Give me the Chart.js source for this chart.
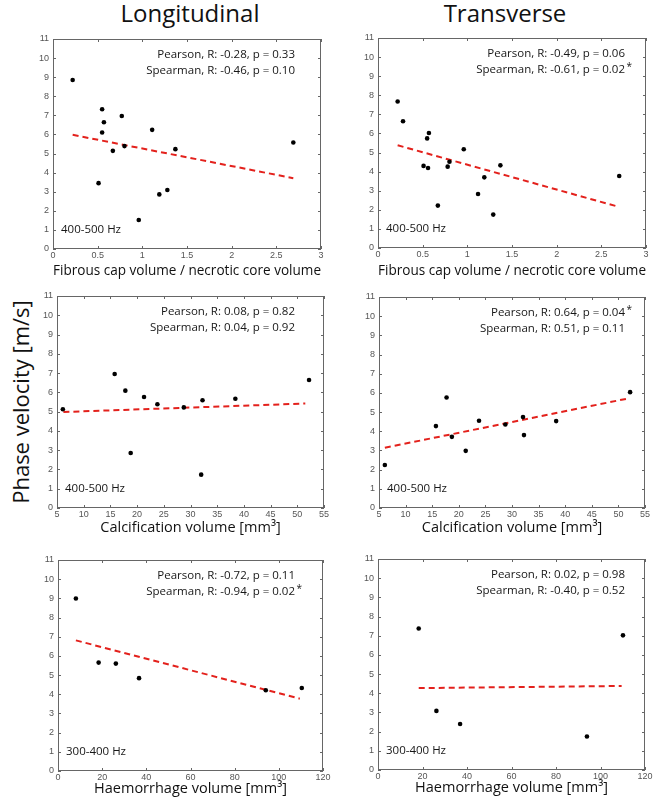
<!DOCTYPE html>
<html>
<head>
<meta charset="utf-8">
<script src="https://cdn.jsdelivr.net/npm/chart.js@4.4.0/dist/chart.umd.min.js"></script>
<style>
    body { margin: 0; width: 659px; height: 802px; background: #fff; position: relative; overflow: hidden; font-family: 'Open Sans', sans-serif; color: #111; }
    .col-title { position: absolute; top: 0; width: 300px; text-align: center; font-size: 24px; line-height: 26px; }
    .y-title { position: absolute; width: 300px; text-align: center; font-size: 22px; line-height: 26px; transform: rotate(-90deg); }
    canvas { position: absolute; }
</style>
</head>
<body>
<div class="col-title" style="left:40px">Longitudinal</div>
<div class="col-title" style="left:355px">Transverse</div>
<div class="y-title" style="left:-130px; top:389px">Phase velocity [m/s]</div>

<canvas id="c1"></canvas>
<canvas id="c2"></canvas>
<canvas id="c3"></canvas>
<canvas id="c4"></canvas>
<canvas id="c5"></canvas>
<canvas id="c6"></canvas>

<script>
// ========== DADOS ==========
// fibrous cap / necrotic core (400-500 Hz)
const capRatioL = [0.22, 0.55, 0.57, 0.55, 0.77, 0.67, 0.80, 1.11, 1.37, 0.51, 1.19, 1.28, 0.96, 2.69];
const capVelL   = [8.85, 7.32, 6.64, 6.10, 6.97, 5.14, 5.39, 6.24, 5.23, 3.45, 2.86, 3.09, 1.52, 5.58];
const capRatioT = [0.22, 0.28, 0.57, 0.55, 0.96, 0.51, 0.56, 0.78, 0.80, 1.37, 1.19, 1.12, 0.67, 1.29, 2.70];
const capVelT   = [7.67, 6.64, 6.02, 5.74, 5.17, 4.30, 4.19, 4.26, 4.52, 4.33, 3.70, 2.83, 2.22, 1.75, 3.77];

// calcification volume (400-500 Hz)
const calcVolL = [6.1, 15.8, 17.8, 18.8, 21.3, 23.8, 28.75, 32.25, 32.0, 38.4, 52.2];
const calcVelL = [5.12, 6.95, 6.09, 2.85, 5.76, 5.38, 5.22, 5.59, 1.73, 5.67, 6.64];
const calcVolT = [6.1, 15.7, 17.7, 18.7, 21.3, 23.8, 28.75, 32.07, 32.25, 38.3, 52.2];
const calcVelT = [2.24, 4.27, 5.76, 3.71, 2.98, 4.55, 4.35, 4.74, 3.80, 4.53, 6.04];

// haemorrhage volume (300-400 Hz)
const haemVolL = [8.1, 18.4, 26.2, 36.7, 94.1, 110.4];
const haemVelL = [8.99, 5.65, 5.60, 4.84, 4.21, 4.33];
const haemVolT = [18.3, 26.25, 36.9, 93.9, 110.1];
const haemVelT = [7.38, 3.08, 2.40, 1.75, 7.02];

// retas de ajuste (inicio, fim)
const fitCapLX = [0.22, 2.69],  fitCapLY = [5.98, 3.71];
const fitCapTX = [0.22, 2.70],  fitCapTY = [5.38, 2.15];
const fitCalcLX = [6.2, 51.5],  fitCalcLY = [4.98, 5.42];
const fitCalcTX = [6.1, 52.0],  fitCalcTY = [3.14, 5.72];
const fitHaemLX = [8.1, 109.5], fitHaemLY = [6.81, 3.77];
const fitHaemTX = [18.3, 109.5], fitHaemTY = [4.27, 4.38];

// ticks
const yTicks = { min: 0, max: 11, step: 1 };
const capTicks = { min: 0, max: 3, step: 0.5 };
const calcTicks = { min: 5, max: 55, step: 5 };
const haemTicks = { min: 0, max: 120, step: 20 };

// textos
const statsCapL  = ['Pearson, R: -0.28, p = 0.33', 'Spearman, R: -0.46, p = 0.10'];
const statsCapT  = ['Pearson, R: -0.49, p = 0.06', 'Spearman, R: -0.61, p = 0.02'];
const statsCalcL = ['Pearson, R: 0.08, p = 0.82', 'Spearman, R: 0.04, p = 0.92'];
const statsCalcT = ['Pearson, R: 0.64, p = 0.04', 'Spearman, R: 0.51, p = 0.11'];
const statsHaemL = ['Pearson, R: -0.72, p = 0.11', 'Spearman, R: -0.94, p = 0.02'];
const statsHaemT = ['Pearson, R: 0.02, p = 0.98', 'Spearman, R: -0.40, p = 0.52'];

// ========== PLUGIN: moldura, ticks internos, textos ==========
const notesPlugin = {
    id: 'notes',
    beforeDatasetsDraw(chart) {
        const { ctx, chartArea: a, scales } = chart;
        ctx.save();
        ctx.strokeStyle = '#666';
        ctx.lineWidth = 1;
        ctx.strokeRect(Math.round(a.left) + 0.5, Math.round(a.top) + 0.5,
                       Math.round(a.width) - 1, Math.round(a.height) - 1);
        const len = 3;
        ctx.beginPath();
        scales.x.ticks.forEach((t, i) => {
            const px = Math.round(scales.x.getPixelForTick(i)) + 0.5;
            ctx.moveTo(px, a.bottom); ctx.lineTo(px, a.bottom - len);
            ctx.moveTo(px, a.top); ctx.lineTo(px, a.top + len);
        });
        scales.y.ticks.forEach((t, i) => {
            const py = Math.round(scales.y.getPixelForTick(i)) + 0.5;
            ctx.moveTo(a.left, py); ctx.lineTo(a.left + len, py);
            ctx.moveTo(a.right, py); ctx.lineTo(a.right - len, py);
        });
        ctx.stroke();
        ctx.restore();
    },
    afterDatasetsDraw(chart, args, opts) {
        const { ctx, chartArea: a } = chart;
        ctx.save();
        ctx.fillStyle = '#161616';
        ctx.textBaseline = 'middle';
        const xr = a.right - opts.right;
        opts.lines.forEach((txt, i) => {
            const y = a.top + 16 + i * 16;
            ctx.font = '11.5px "Open Sans"';
            ctx.textAlign = 'right';
            ctx.fillText(txt, xr, y);
            if (opts.star[i]) {
                ctx.font = '10px "Open Sans"';
                ctx.textAlign = 'left';
                ctx.fillText('*', xr + 1.5, y - 3);
            }
        });
        ctx.font = '11.5px "Open Sans"';
        ctx.textAlign = 'left';
        ctx.fillText(opts.band, a.left + 8, a.bottom - 19);
        ctx.restore();
    }
};

function pontos(xs, ys) {
    return xs.map((x, i) => ({ x: x, y: ys[i] }));
}

function formatarTick(v) {
    return String(Number(v.toFixed(2)));
}

// ========== CRIAR GRAFICO ==========
function criarPainel(id, p) {
    const canvas = document.getElementById(id);
    const left = p.plot[0] - 45, top = p.plot[1] - 12;
    const width = p.plot[2] - left + 12, height = p.plot[3] - top + 36;
    canvas.style.left = left + 'px';
    canvas.style.top = top + 'px';
    canvas.width = width;
    canvas.height = height;
    const xH = p.gap + 8.7;

    new Chart(canvas, {
        type: 'scatter',
        data: {
            datasets: [
                {
                    data: pontos(p.xs, p.ys),
                    backgroundColor: '#000',
                    borderWidth: 0,
                    pointRadius: 2.3
                },
                {
                    data: pontos(p.fitX, p.fitY),
                    showLine: true,
                    borderColor: '#e3211c',
                    borderWidth: 2,
                    borderDash: [6, 4],
                    pointRadius: 0
                }
            ]
        },
        options: {
            responsive: false,
            animation: false,
            events: [],
            layout: { padding: { left: 15, right: 12, top: 12, bottom: 36 - xH } },
            plugins: {
                legend: { display: false },
                tooltip: { enabled: false },
                notes: { lines: p.stats, star: p.star, right: p.right, band: p.band }
            },
            scales: {
                x: {
                    type: 'linear',
                    min: p.xt.min, max: p.xt.max,
                    ticks: {
                        stepSize: p.xt.step, autoSkip: false, maxRotation: 0,
                        color: '#555', padding: 1.5,
                        font: { size: 9, family: 'Liberation Sans' },
                        callback: formatarTick
                    },
                    grid: { display: false, drawTicks: false },
                    border: { display: false },
                    title: {
                        display: true, text: p.xLabel, color: '#111', padding: 0,
                        font: { size: 14.5, family: 'Open Sans', lineHeight: 1.2 }
                    },
                    afterFit: s => { s.height = xH; }
                },
                y: {
                    type: 'linear',
                    min: yTicks.min, max: yTicks.max,
                    ticks: {
                        stepSize: yTicks.step, autoSkip: false,
                        color: '#555', padding: 4,
                        font: { size: 9, family: 'Liberation Sans' },
                        callback: formatarTick
                    },
                    grid: { display: false, drawTicks: false },
                    border: { display: false },
                    afterFit: s => { s.width = 30; }
                }
            }
        },
        plugins: [notesPlugin]
    });
}

const capLabel = 'Fibrous cap volume / necrotic core volume';
const calcLabel = 'Calcification volume [mm³]';
const haemLabel = 'Haemorrhage volume [mm³]';

criarPainel('c1', { plot: [53, 39, 321, 249], xs: capRatioL, ys: capVelL, fitX: fitCapLX, fitY: fitCapLY,
    xt: capTicks, xLabel: capLabel, gap: 22, stats: statsCapL, star: [false, false], right: 26, band: '400-500 Hz' });
criarPainel('c2', { plot: [378, 38, 646, 248], xs: capRatioT, ys: capVelT, fitX: fitCapTX, fitY: fitCapTY,
    xt: capTicks, xLabel: capLabel, gap: 23, stats: statsCapT, star: [false, true], right: 21, band: '400-500 Hz' });
criarPainel('c3', { plot: [57, 296, 324, 508], xs: calcVolL, ys: calcVelL, fitX: fitCalcLX, fitY: fitCalcLY,
    xt: calcTicks, xLabel: calcLabel, gap: 20, stats: statsCalcL, star: [false, false], right: 29, band: '400-500 Hz' });
criarPainel('c4', { plot: [379, 297, 645, 508], xs: calcVolT, ys: calcVelT, fitX: fitCalcTX, fitY: fitCalcTY,
    xt: calcTicks, xLabel: calcLabel, gap: 20, stats: statsCalcT, star: [true, false], right: 20, band: '400-500 Hz' });
criarPainel('c5', { plot: [58, 560, 323, 771], xs: haemVolL, ys: haemVelL, fitX: fitHaemLX, fitY: fitHaemLY,
    xt: haemTicks, xLabel: haemLabel, gap: 18, stats: statsHaemL, star: [false, true], right: 28, band: '300-400 Hz' });
criarPainel('c6', { plot: [378, 559, 645, 770], xs: haemVolT, ys: haemVelT, fitX: fitHaemTX, fitY: fitHaemTY,
    xt: haemTicks, xLabel: haemLabel, gap: 18, stats: statsHaemT, star: [false, false], right: 20, band: '300-400 Hz' });
</script>
</body>
</html>
